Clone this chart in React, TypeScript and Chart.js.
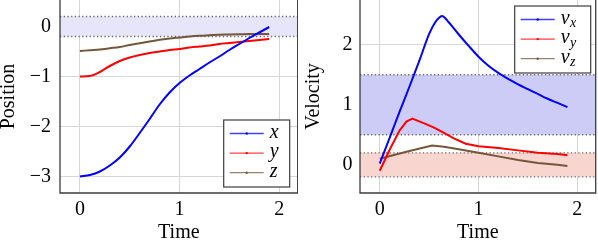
import { useEffect, useRef } from "react";
import { Chart, registerables } from "chart.js";

Chart.register(...registerables);

// ---------- data ----------
const timePos = [0, 0.1, 0.2, 0.3, 0.4, 0.5, 0.6, 0.7, 0.8, 0.9, 1.0, 1.1, 1.2, 1.3, 1.4, 1.5, 1.6, 1.7, 1.8, 1.9];
const posX = [-3, -2.97, -2.9, -2.78, -2.62, -2.4, -2.13, -1.85, -1.56, -1.32, -1.13, -0.98, -0.85, -0.72, -0.6, -0.47, -0.35, -0.23, -0.12, -0.01];
const posY = [-1, -0.99, -0.91, -0.79, -0.69, -0.62, -0.57, -0.53, -0.5, -0.47, -0.45, -0.42, -0.4, -0.38, -0.35, -0.33, -0.31, -0.29, -0.27, -0.25];
const posZ = [-0.49, -0.475, -0.46, -0.435, -0.41, -0.37, -0.335, -0.3, -0.265, -0.24, -0.22, -0.2, -0.185, -0.175, -0.165, -0.16, -0.155, -0.15, -0.15, -0.15];
const posLabels = ["x", "y", "z"];
const posTicks = [-3, -2, -1, 0];
const posBand = [-0.2, 0.2];

const timeVx = [0, 0.1, 0.2, 0.3, 0.4, 0.5, 0.56, 0.6, 0.63, 0.7, 0.8, 0.9, 1.0, 1.1, 1.2, 1.3, 1.4, 1.5, 1.6, 1.7, 1.8, 1.9];
const velX = [0.02, 0.45, 0.88, 1.3, 1.73, 2.18, 2.37, 2.45, 2.48, 2.37, 2.17, 1.98, 1.8, 1.65, 1.53, 1.43, 1.34, 1.26, 1.18, 1.1, 1.03, 0.96];
const timeVy = [0, 0.1, 0.2, 0.27, 0.33, 0.45, 0.55, 0.65, 0.75, 0.87, 1.0, 1.2, 1.4, 1.6, 1.8, 1.9];
const velY = [-0.1, 0.25, 0.57, 0.72, 0.77, 0.69, 0.62, 0.53, 0.44, 0.35, 0.31, 0.28, 0.24, 0.2, 0.18, 0.16];
const timeVz = [0, 0.25, 0.53, 0.65, 0.8, 1.0, 1.2, 1.4, 1.6, 1.8, 1.9];
const velZ = [0.1, 0.21, 0.32, 0.3, 0.26, 0.2, 0.14, 0.08, 0.03, 0.0, -0.02];
const velLabels = ["v_x", "v_y", "v_z"];
const velTicks = [0, 1, 2];
const velBandHigh = [0.5, 1.5];
const velBandLow = [-0.2, 0.2];

const timeTicks = [0, 1, 2];

// ---------- style ----------
const FONT = "'Liberation Serif', 'Times New Roman', serif";
const COLORS = ["#0000ff", "#ff0000", "#76563a"];
const GRID = "#d6d6d6";
const FRAME = "#3c3c3c";

const fmt = (v: number) => (v < 0 ? "\u2212" + Math.abs(v) : String(v));
const pts = (t: number[], v: number[]) => t.map((x, i) => ({ x, y: v[i] }));

type Band = { range: number[]; color: string };

function bandPlugin(bands: Band[]) {
  return {
    id: "bands",
    beforeDatasetsDraw(chart: any) {
      const { ctx, chartArea: a, scales } = chart;
      const y = scales.y;
      for (const b of bands) {
        const y0 = y.getPixelForValue(b.range[0]);
        const y1 = y.getPixelForValue(b.range[1]);
        ctx.save();
        ctx.fillStyle = b.color;
        ctx.fillRect(a.left, y1, a.right - a.left, y0 - y1);
        ctx.strokeStyle = "#6a6a6a";
        ctx.lineWidth = 1.3;
        ctx.setLineDash([1.3, 2.4]);
        for (const yy of [y0, y1]) {
          ctx.beginPath();
          ctx.moveTo(a.left, yy);
          ctx.lineTo(a.right, yy);
          ctx.stroke();
        }
        ctx.restore();
      }
    },
  };
}

const framePlugin = {
  id: "frame",
  afterDatasetsDraw(chart: any) {
    const { ctx, chartArea: a } = chart;
    ctx.save();
    ctx.strokeStyle = FRAME;
    ctx.lineWidth = 1.3;
    ctx.beginPath();
    ctx.moveTo(a.left, a.top - 2);
    ctx.lineTo(a.left, a.bottom);
    ctx.lineTo(a.right, a.bottom);
    ctx.lineTo(a.right, a.top - 2);
    ctx.stroke();
    ctx.restore();
  },
};

type LegendOpts = { corner: "br" | "tr"; dx: number; dy: number; w: number; h: number };

function legendPlugin(o: LegendOpts) {
  return {
    id: "boxLegend",
    afterDraw(chart: any) {
      const { ctx, chartArea: a } = chart;
      const left = a.right - o.dx - o.w;
      const top = o.corner === "br" ? a.bottom - o.dy - o.h : a.top + o.dy;
      ctx.save();
      ctx.fillStyle = "#ffffff";
      ctx.fillRect(left, top, o.w, o.h);
      ctx.strokeStyle = FRAME;
      ctx.lineWidth = 1.2;
      ctx.strokeRect(left, top, o.w, o.h);
      chart.data.datasets.forEach((ds: any, i: number) => {
        const yy = top + 13.5 + i * 19.6;
        ctx.strokeStyle = ds.borderColor;
        ctx.globalAlpha = 0.75;
        ctx.lineWidth = 1.3;
        ctx.beginPath();
        ctx.moveTo(left + 6, yy);
        ctx.lineTo(left + 40, yy);
        ctx.stroke();
        ctx.globalAlpha = 1;
        ctx.fillStyle = ds.borderColor;
        ctx.beginPath();
        ctx.arc(left + 23, yy, 1.2, 0, Math.PI * 2);
        ctx.fill();
        const [main, sub] = String(ds.label).split("_");
        ctx.fillStyle = "#000";
        ctx.textBaseline = "middle";
        ctx.textAlign = "left";
        ctx.font = `italic 20px ${FONT}`;
        ctx.fillText(main, left + 46, yy - 1);
        if (sub) {
          const w = ctx.measureText(main).width;
          ctx.font = `italic 14px ${FONT}`;
          ctx.fillText(sub, left + 46 + w + 0.5, yy + 4);
        }
      });
      ctx.restore();
    },
  };
}

function makeConfig(opts: {
  data: { t: number[]; v: number[]; label: string; smooth: boolean }[];
  yMin: number;
  yMax: number;
  yTicks: number[];
  yTitle: string;
  yWidth: number;
  yTickPad: number;
  yTitlePad: number;
  padRight: number;
  bands: Band[];
  legend: LegendOpts;
}): any {
  return {
    type: "line",
    data: {
      datasets: opts.data.map((d, i) => ({
        label: d.label,
        data: pts(d.t, d.v),
        borderColor: COLORS[i],
        backgroundColor: COLORS[i],
        borderWidth: 2,
        pointRadius: 0,
        fill: false,
        cubicInterpolationMode: d.smooth ? "monotone" : "default",
        tension: 0,
      })),
    },
    options: {
      animation: false,
      responsive: false,
      devicePixelRatio: 1,
      layout: { padding: { left: 0, right: opts.padRight, top: 0, bottom: 0 } },
      plugins: { legend: { display: false }, tooltip: { enabled: false } },
      scales: {
        x: {
          type: "linear",
          position: "bottom",
          min: -0.2,
          max: 2.186,
          afterBuildTicks: (s: any) => {
            s.ticks = timeTicks.map((v) => ({ value: v }));
          },
          afterFit: (s: any) => {
            s.height = 47;
            s.paddingLeft = 0;
            s.paddingRight = 0;
          },
          grid: { color: GRID, lineWidth: 1, drawTicks: false },
          border: { display: false },
          ticks: { padding: 7, color: "#000", font: { family: FONT, size: 20, lineHeight: 1 }, callback: (v: any) => fmt(Number(v)) },
          title: { display: true, text: "Time", color: "#000", font: { family: FONT, size: 20, lineHeight: 1 }, padding: { top: 0, bottom: -2.5 } },
        },
        y: {
          type: "linear",
          position: "left",
          min: opts.yMin,
          max: opts.yMax,
          afterBuildTicks: (s: any) => {
            s.ticks = opts.yTicks.map((v) => ({ value: v }));
          },
          afterFit: (s: any) => {
            s.width = opts.yWidth;
            s.paddingTop = 0;
            s.paddingBottom = 0;
          },
          grid: { color: GRID, lineWidth: 1, drawTicks: false },
          border: { display: false },
          ticks: { padding: opts.yTickPad, color: "#000", font: { family: FONT, size: 20, lineHeight: 1 }, callback: (v: any) => fmt(Number(v)) },
          title: { display: true, text: opts.yTitle, color: "#000", font: { family: FONT, size: 20, lineHeight: 1 }, padding: { top: opts.yTitlePad, bottom: 0 } },
        },
      },
    },
    plugins: [bandPlugin(opts.bands), framePlugin, legendPlugin(opts.legend)],
  };
}

function PlotCanvas({ width, config }: { width: number; config: () => any }) {
  const ref = useRef<HTMLCanvasElement>(null);
  useEffect(() => {
    const chart = new Chart(ref.current as HTMLCanvasElement, config());
    return () => chart.destroy();
  }, []);
  return <canvas ref={ref} width={width} height={240} style={{ display: "block", width, height: 240 }} />;
}

export default function App() {
  const posConfig = () =>
    makeConfig({
      data: [
        { t: timePos, v: posX, label: posLabels[0], smooth: true },
        { t: timePos, v: posY, label: posLabels[1], smooth: true },
        { t: timePos, v: posZ, label: posLabels[2], smooth: true },
      ],
      yMin: -3.33,
      yMax: 0.53,
      yTicks: posTicks,
      yTitle: "Position",
      yWidth: 60,
      yTickPad: 9,
      yTitlePad: -1.7,
      padRight: 0.3,
      bands: [{ range: posBand, color: "#e6e5fa" }],
      legend: { corner: "br", dx: 8, dy: 6, w: 66, h: 67 },
    });
  const velConfig = () =>
    makeConfig({
      data: [
        { t: timeVx, v: velX, label: velLabels[0], smooth: true },
        { t: timeVy, v: velY, label: velLabels[1], smooth: false },
        { t: timeVz, v: velZ, label: velLabels[2], smooth: false },
      ],
      yMin: -0.47,
      yMax: 2.745,
      yTicks: velTicks,
      yTitle: "Velocity",
      yWidth: 62,
      yTickPad: 7.5,
      yTitlePad: 6,
      padRight: 2.3,
      bands: [
        { range: velBandHigh, color: "#ccccf6" },
        { range: velBandLow, color: "#f8d5cf" },
      ],
      legend: { corner: "tr", dx: 5, dy: 6, w: 76, h: 67 },
    });
  return (
    <div style={{ position: "absolute", left: 0, top: 0, width: 598, height: 240, background: "#fff", display: "flex" }}>
      <PlotCanvas width={298} config={posConfig} />
      <PlotCanvas width={300} config={velConfig} />
    </div>
  );
}
